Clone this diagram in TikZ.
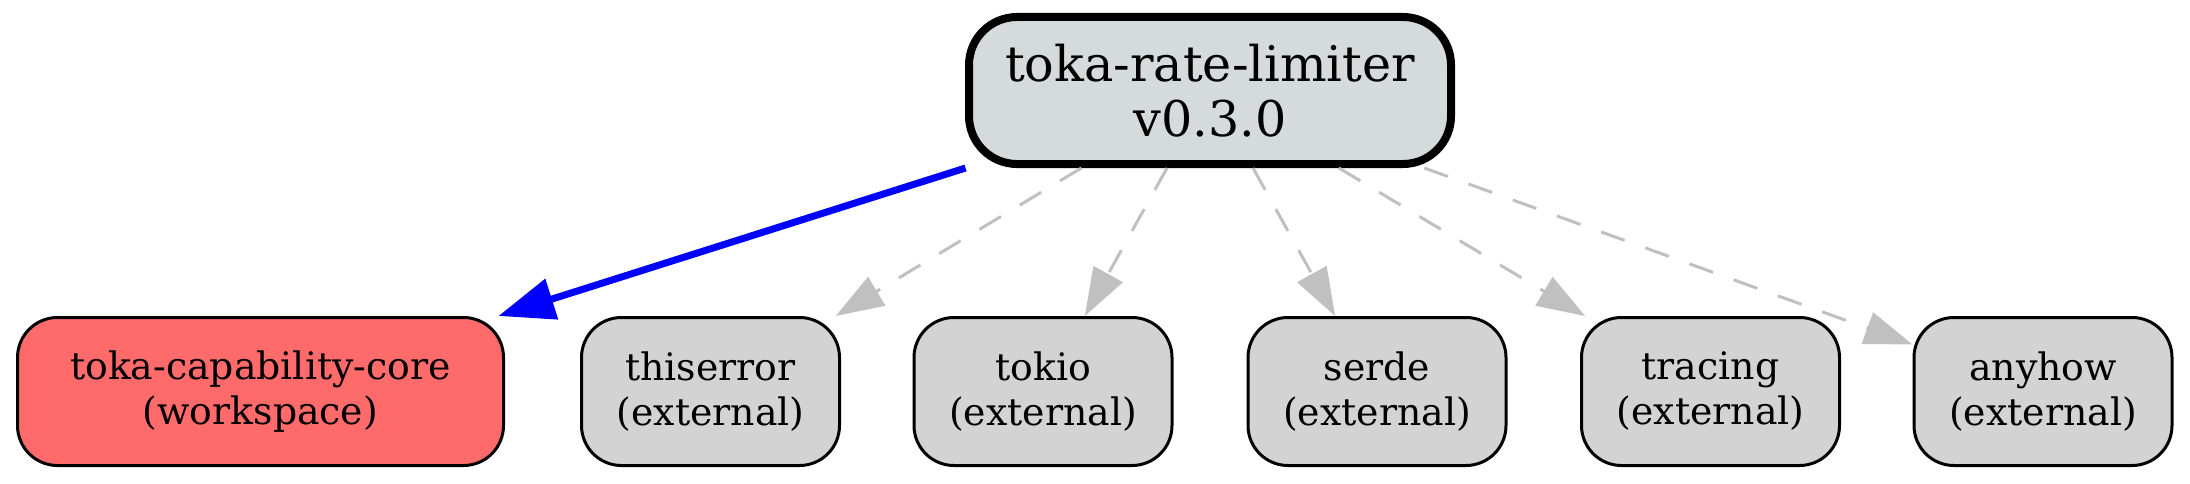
\documentclass[tikz,border=0pt]{standalone}
\usepackage{fontspec}
\setmainfont{DejaVu Serif}
\usetikzlibrary{arrows.meta}
\definecolor{rootfill}{HTML}{D5DBDB}
\definecolor{extfill}{HTML}{D3D3D3}
\definecolor{wsfill}{HTML}{FF6B6B}
\definecolor{depgray}{HTML}{C0C0C0}
\tikzset{
  crate/.style={draw, rectangle, rounded corners=20pt, line width=1.5pt,
    align=center, inner sep=0pt, minimum height=74pt,
    font=\fontsize{18.9}{22.5}\selectfont},
  extcrate/.style={crate, fill=extfill, minimum width=129pt},
  wscrate/.style={crate, fill=wsfill, minimum width=243pt},
  rootcrate/.style={draw, rectangle, rounded corners=24pt, line width=4pt,
    fill=rootfill, align=center, inner sep=0pt, minimum width=241pt,
    minimum height=73.5pt, font=\fontsize{24.6}{27.5}\selectfont},
  wsdep/.style={-{Triangle[length=28pt,width=20.5pt]}, blue, line width=3.5pt},
  extdep/.style={-{Triangle[length=24pt,width=16.5pt]}, depgray,
    line width=1.5pt, dash pattern=on 12.5pt off 11pt},
}
\begin{document}
\begin{tikzpicture}[x=0.5pt,y=0.5pt]
      \useasboundingbox (0,0) rectangle (2190,483);
      \draw
        (1210,392.5) node[rootcrate] (root){toka-rate-limiter\\v0.3.0}
        (260.5,91.5) node[wscrate] (core){toka-capability-core\\(workspace)}
        (710.5,91.5) node[extcrate] (thiserror){thiserror\\(external)}
        (1043,91.5) node[extcrate] (tokio){tokio\\(external)}
        (1377,91.5) node[extcrate] (serde){serde\\(external)}
        (1710.5,91.5) node[extcrate] (tracing){tracing\\(external)}
        (2043,91.5) node[extcrate] (anyhow){anyhow\\(external)};
      \begin{scope}[extdep]
        \draw (root) to (thiserror);
        \draw (root) to (tokio);
        \draw (root) to (serde);
        \draw (root) to (tracing);
        \draw (root) to (anyhow);
      \end{scope}
      \draw[wsdep] (root) to (core);
    \end{tikzpicture}
\end{document}
